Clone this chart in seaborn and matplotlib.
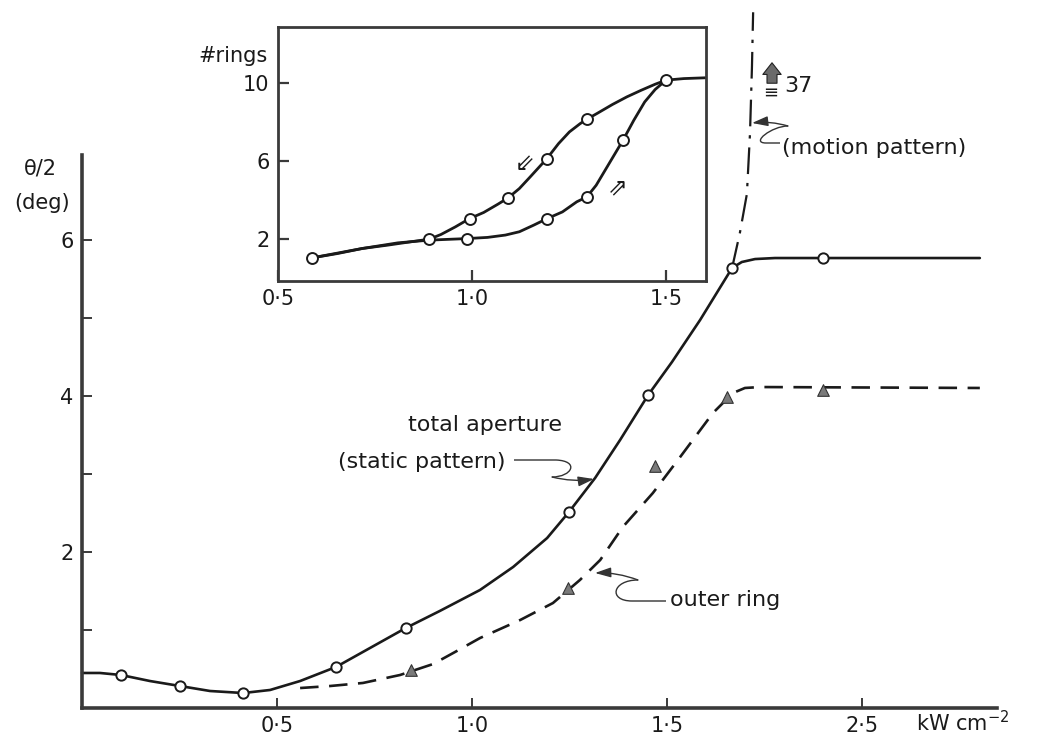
"""
Aperture angle vs. laser intensity, with inset ring-count hysteresis.
Values read off a scanned figure.
"""

import matplotlib
matplotlib.use("Agg")
import matplotlib.pyplot as plt
from matplotlib.path import Path
from matplotlib.patches import PathPatch
import seaborn as sns

# ── Data ─────────────────────────────────────────────────────────────────────
# total aperture (static pattern): solid trace + open circles
total_x = [0.000, 0.046, 0.100, 0.174, 0.251, 0.328, 0.413, 0.482, 0.559, 0.651,
           0.738, 0.830, 0.917, 1.020, 1.105, 1.192, 1.248, 1.315, 1.379, 1.451,
           1.512, 1.584, 1.666, 1.691, 1.725, 1.776, 2.301]
total_y = [0.449, 0.449, 0.423, 0.346, 0.282, 0.218, 0.192, 0.231, 0.346, 0.526,
           0.769, 1.026, 1.244, 1.513, 1.808, 2.179, 2.513, 2.949, 3.436, 4.013,
           4.436, 4.974, 5.641, 5.718, 5.756, 5.769, 5.769]
total_pts_x = [0.100, 0.251, 0.413, 0.651, 0.830, 1.248, 1.451, 1.666, 1.899]
total_pts_y = [0.42, 0.28, 0.19, 0.53, 1.03, 2.51, 4.01, 5.64, 5.77]

# outer ring: dashed trace + grey triangles
outer_x = [0.559, 0.636, 0.720, 0.815, 0.900, 0.956, 1.020, 1.123, 1.207, 1.276,
           1.328, 1.386, 1.463, 1.533, 1.617, 1.668, 1.699, 1.738, 2.301]
outer_y = [0.256, 0.282, 0.321, 0.423, 0.564, 0.718, 0.897, 1.128, 1.346, 1.641,
           1.897, 2.321, 2.756, 3.218, 3.782, 4.038, 4.103, 4.115, 4.103]
outer_pts_x = [0.843, 1.246, 1.468, 1.653, 1.899]
outer_pts_y = [0.49, 1.54, 3.10, 3.99, 4.08]

# motion pattern: dash-dot branch shooting up
motion_x = [1.666, 1.686, 1.704, 1.712, 1.717, 1.720]
motion_y = [5.64, 6.09, 6.59, 7.37, 8.22, 8.92]

x_ticks = [0.5, 1.0, 1.5, 2.0]
x_tick_labels = ["0·5", "1·0", "1·5", "2·5"]
y_ticks = [1, 2, 3, 4, 5, 6]
y_tick_labels = ["", "2", "", "4", "", "6"]

# inset: number of rings, decreasing (upper) and increasing (lower) branch
ring_down_x = [0.588, 0.653, 0.717, 0.782, 0.837, 0.890, 0.920, 0.957, 0.994,
               1.030, 1.067, 1.093, 1.122, 1.150, 1.193, 1.223, 1.251, 1.279,
               1.296, 1.325, 1.362, 1.399, 1.436, 1.472, 1.500, 1.546, 1.601]
ring_down_y = [1.04, 1.26, 1.52, 1.69, 1.85, 2.00, 2.24, 2.63, 3.06,
               3.37, 3.80, 4.12, 4.60, 5.20, 6.14, 6.91, 7.51, 7.94,
               8.16, 8.49, 8.92, 9.31, 9.65, 9.96, 10.17, 10.25, 10.29]
ring_up_x = [0.588, 0.717, 0.809, 0.890, 0.987, 1.040, 1.086, 1.122, 1.159,
             1.194, 1.233, 1.270, 1.296, 1.320, 1.343, 1.366, 1.389, 1.417,
             1.445, 1.472, 1.500]
ring_up_y = [1.04, 1.52, 1.81, 1.95, 2.03, 2.09, 2.21, 2.38, 2.72,
             3.06, 3.40, 3.92, 4.17, 4.77, 5.54, 6.31, 7.08, 8.11,
             9.05, 9.69, 10.17]
ring_pts_x = [0.588, 0.890, 0.987, 0.994, 1.093, 1.193, 1.194, 1.296, 1.296, 1.389, 1.500]
ring_pts_y = [1.04, 2.00, 2.03, 3.06, 4.12, 6.14, 3.06, 8.16, 4.17, 7.08, 10.17]

inset_x_ticks = [0.5, 1.0, 1.5]
inset_x_labels = ["0·5", "1·0", "1·5"]
inset_y_ticks = [2, 6, 10]

# ── Style ────────────────────────────────────────────────────────────────────
sns.set_theme(style="white")
plt.rcParams["font.family"] = ["DejaVu Sans"]
INK = "#1a1a1a"
AXIS = "#3a3a3a"
FS = 15
TXT = 16
W, H = 1044, 737


def fig_xy(px, py):
    return px / W, 1 - py / H


def draw_line(ax, x, y, ls="-", lw=1.9):
    sns.lineplot(x=x, y=y, ax=ax, color=INK, linewidth=lw, linestyle=ls,
                 estimator=None, sort=False, clip_on=False)


def circles(ax, x, y, s=55):
    sns.scatterplot(x=x, y=y, ax=ax, marker="o", s=s, facecolor="white",
                    edgecolor=INK, linewidth=1.4, zorder=5, clip_on=False)


def leader(fig, start, ctrl, end, head):
    """Hand-drawn style squiggle (one line + one cubic) ending in an arrow."""
    pts = [start, ctrl[0], ctrl[1], ctrl[2], ctrl[3]]
    codes = [Path.MOVETO, Path.LINETO, Path.CURVE4, Path.CURVE4, Path.CURVE4]
    path = Path([fig_xy(*p) for p in pts], codes)
    fig.add_artist(PathPatch(path, fc="none", ec="#333333", lw=1.0,
                             transform=fig.transFigure))
    fig.axes[0].annotate(
        "", xy=fig_xy(*head), xytext=fig_xy(*end),
        xycoords="figure fraction", textcoords="figure fraction",
        arrowprops=dict(arrowstyle="-|>,head_length=0.8,head_width=0.25",
                        color="#333333", lw=1.0, shrinkA=0, shrinkB=0,
                        connectionstyle="arc3,rad=0.1"))


fig = plt.figure(figsize=(W / 100, H / 100), dpi=100)

# ── Main axes ────────────────────────────────────────────────────────────────
ax = fig.add_axes([82 / W, 1 - 708 / H, (997 - 82) / W, (708 - 155) / H])
draw_line(ax, total_x, total_y)
draw_line(ax, outer_x, outer_y, ls=(0, (7, 4)))
draw_line(ax, motion_x, motion_y, ls=(0, (12, 4, 1.5, 4)), lw=1.6)
circles(ax, total_pts_x, total_pts_y)
sns.scatterplot(x=outer_pts_x, y=outer_pts_y, ax=ax, marker="^", s=70,
                color="#7a7a7a", edgecolor="#333333", linewidth=0.8, zorder=5)

ax.set_xlim(0, 2.345)
ax.set_ylim(0, 7.09)
ax.set_xticks(x_ticks)
ax.set_xticklabels(x_tick_labels)
ax.set_yticks(y_ticks)
ax.set_yticklabels(y_tick_labels)
ax.tick_params(direction="in", length=7, width=1.4, colors=AXIS,
               labelcolor=INK, labelsize=FS, pad=6, bottom=True, left=True)
ax.set_xlabel("")
ax.set_ylabel("")
for side in ["top", "right"]:
    ax.spines[side].set_visible(False)
for side in ["left", "bottom"]:
    ax.spines[side].set_linewidth(2.6)
    ax.spines[side].set_color(AXIS)
ax.patch.set_alpha(0)

# axis titles
fig.text(*fig_xy(40, 168), "θ/2", fontsize=FS, ha="center", va="center", color=INK)
fig.text(*fig_xy(42, 203), "(deg)", fontsize=FS, ha="center", va="center", color=INK)
fig.text(*fig_xy(916, 723), "kW cm$^{-2}$", fontsize=FS, ha="left", va="center", color=INK)

# curve labels
fig.text(*fig_xy(562, 425), "total aperture", fontsize=TXT, ha="right", va="center", color=INK)
fig.text(*fig_xy(506, 462), "(static pattern)", fontsize=TXT, ha="right", va="center", color=INK)
fig.text(*fig_xy(670, 600), "outer ring", fontsize=TXT, ha="left", va="center", color=INK)
fig.text(*fig_xy(782, 148), "(motion pattern)", fontsize=TXT, ha="left", va="center", color=INK)

# squiggly leaders
leader(fig, (514, 460), [(556, 460), (580, 461), (572, 477), (552, 477)],
       (552, 477), (594, 479))
leader(fig, (666, 601), [(632, 601), (608, 601), (612, 580), (638, 580)],
       (638, 580), (595, 573))
leader(fig, (780, 143), [(766, 143), (750, 143), (772, 126), (788, 126)],
       (788, 126), (752, 123))

# off-scale marker: upward arrow with "37"
ax.annotate("", xy=fig_xy(772, 60), xytext=fig_xy(772, 86),
            xycoords="figure fraction", textcoords="figure fraction",
            arrowprops=dict(arrowstyle="simple,head_width=1.1,head_length=0.7,tail_width=0.6",
                            fc="#6a6a6a", ec="#222222", lw=0.8))
fig.text(*fig_xy(771, 93), "≡", fontsize=13, ha="center", va="center", color=INK)
fig.text(*fig_xy(784, 86), "37", fontsize=FS + 1, ha="left", va="center", color=INK)

# ── Inset ────────────────────────────────────────────────────────────────────
ax_in = fig.add_axes([278 / W, 1 - 281 / H, (706 - 278) / W, (281 - 27) / H])
draw_line(ax_in, ring_down_x, ring_down_y, lw=2.0)
draw_line(ax_in, ring_up_x, ring_up_y, lw=2.0)
circles(ax_in, ring_pts_x, ring_pts_y, s=62)
ax_in.set_xlim(0.5, 1.603)
ax_in.set_ylim(-0.15, 12.9)
ax_in.set_xticks(inset_x_ticks)
ax_in.set_xticklabels(inset_x_labels)
ax_in.set_yticks(inset_y_ticks)
ax_in.tick_params(direction="in", length=8, width=1.6, colors=AXIS,
                  labelcolor=INK, labelsize=FS, pad=6, bottom=True, left=True)
ax_in.set_xlabel("")
ax_in.set_ylabel("")
for side in ax_in.spines.values():
    side.set_linewidth(2.0)
    side.set_color(AXIS)
ax_in.text(-0.025, 0.885, "#rings", transform=ax_in.transAxes, fontsize=FS,
           ha="right", va="center", color=INK)
ax_in.text(1.136, 5.88, "⇙", fontsize=17, ha="center", va="center", color=INK)
ax_in.text(1.376, 4.68, "⇗", fontsize=17, ha="center", va="center", color=INK)

fig.savefig("out.png", dpi=100)
